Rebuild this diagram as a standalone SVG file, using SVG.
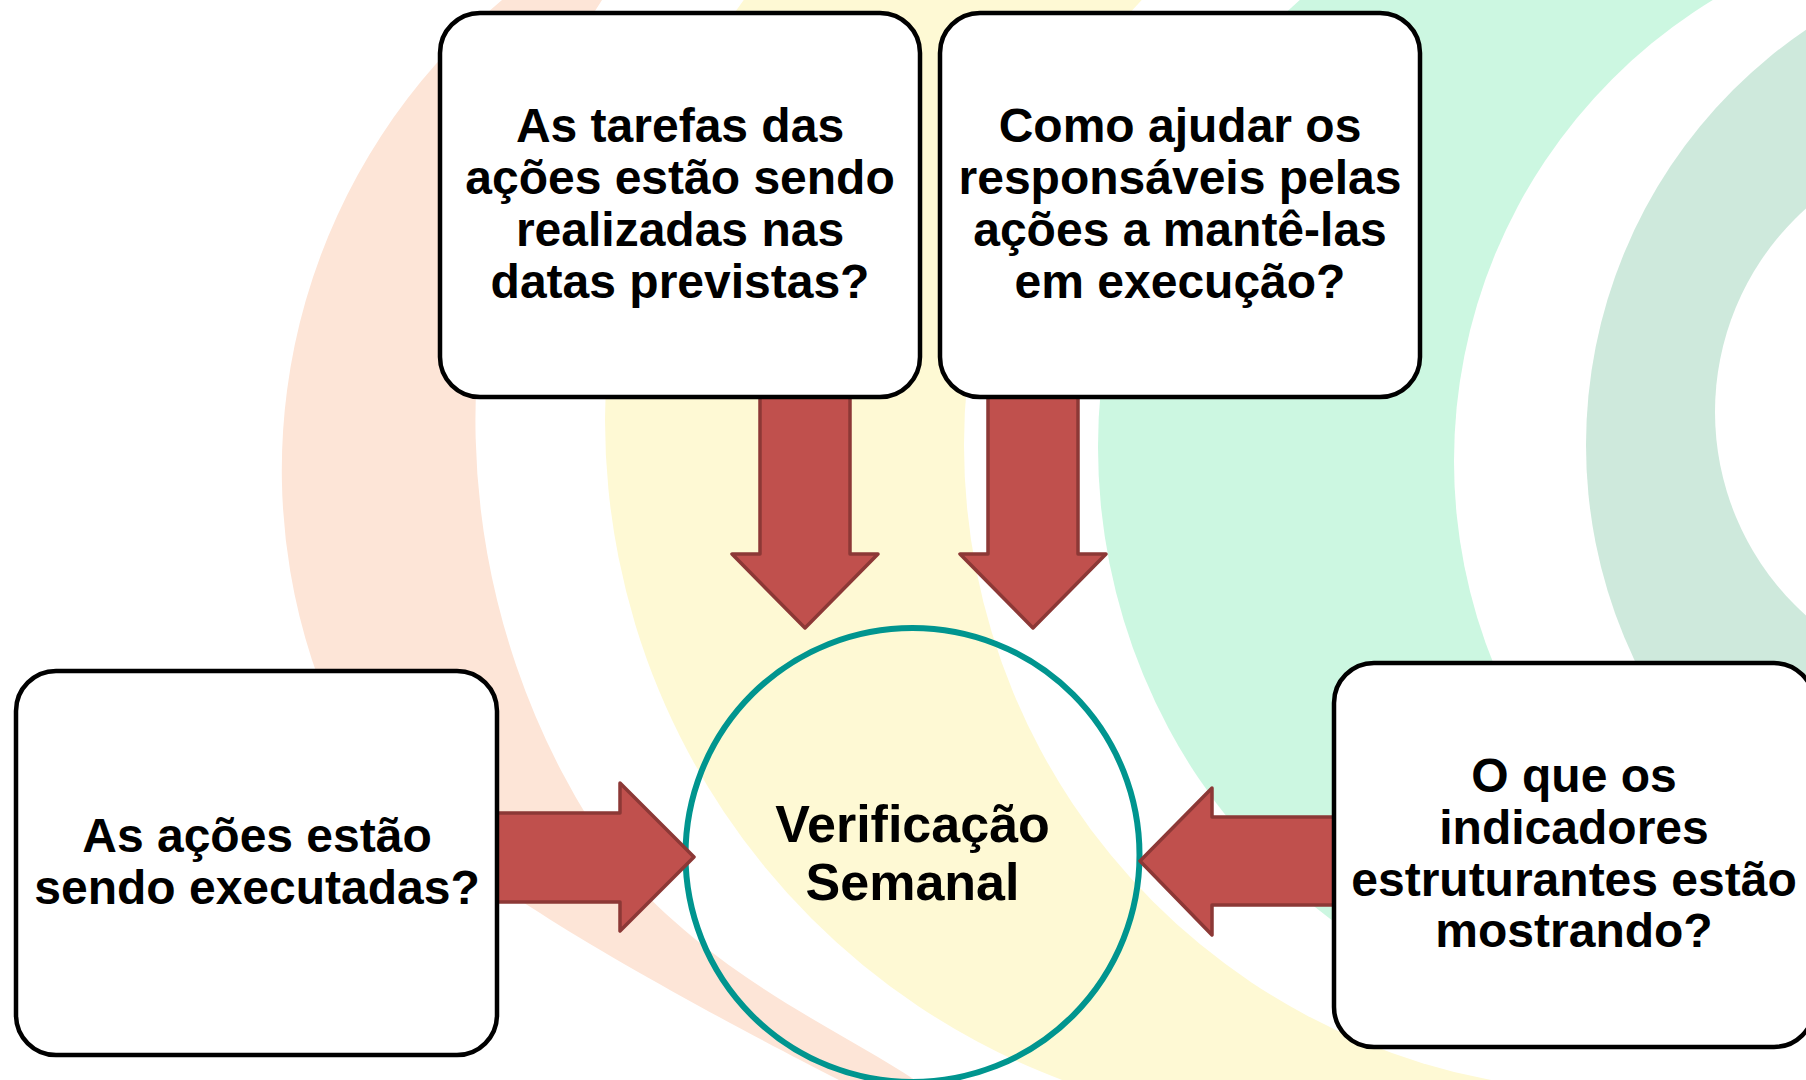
<svg xmlns="http://www.w3.org/2000/svg" width="1806" height="1080" viewBox="0 0 1806 1080">
<defs>
<style>
.box{fill:#FFFFFF;stroke:#000000;stroke-width:4.5}
.arrow{fill:#C0504D;stroke:#8C3836;stroke-width:3.5;stroke-linejoin:round}
.t{font-family:"Liberation Sans",Arial,sans-serif;font-weight:bold;font-size:48px;fill:#000000;text-anchor:middle}
.tc{font-family:"Liberation Sans",Arial,sans-serif;font-weight:bold;font-size:52px;fill:#000000;text-anchor:middle}
</style>
</defs>
<rect x="0" y="0" width="1806" height="1080" fill="#FFFFFF"/>
<g id="background">
<path fill="#FDE5D7" d="M502,0 A612,612 0 0 0 312,660 C343,755 420,840 540,913 C620,965 760,1040 839,1080 L915,1080 C840,1030 720,980 623,870 A760,760 0 0 1 602,0 Z"/>
<circle cx="1310" cy="420" r="705" fill="#FEF9D4"/>
<circle cx="1610" cy="445" r="646" fill="#FFFFFF"/>
<circle cx="1694" cy="447" r="596" fill="#CCF7E1"/>
<circle cx="1994" cy="461" r="540" fill="#FFFFFF"/>
<circle cx="2088" cy="445" r="502" fill="#CEE9DC"/>
<circle cx="1988" cy="412" r="273" fill="#FFFFFF"/>
</g>
<g id="center">
<circle cx="912.5" cy="855" r="227" fill="none" stroke="#00958F" stroke-width="6"/>
<text class="tc" x="912.5" y="842">Verificação</text>
<text class="tc" x="912.5" y="900">Semanal</text>
</g>
<g id="connectors">
<polygon class="arrow" points="760,392 850,392 850,554 878,554 805,628 732,554 760,554"/>
<polygon class="arrow" points="988,392 1078,392 1078,554 1106,554 1033,628 960,554 988,554"/>
<polygon class="arrow" points="492,813 620,813 620,783 694,857 620,931 620,902 492,902"/>
<polygon class="arrow" points="1340,817 1212,817 1212,788 1140,861 1212,935 1212,905 1340,905"/>
</g>
<g id="box-tarefas">
<rect class="box" x="440" y="13" width="480" height="384" rx="40"/>
<text class="t" x="680" y="142">As tarefas das</text>
<text class="t" x="680" y="194">ações estão sendo</text>
<text class="t" x="680" y="246">realizadas nas</text>
<text class="t" x="680" y="298">datas previstas?</text>
</g>
<g id="box-ajudar">
<rect class="box" x="940" y="13" width="480" height="384" rx="40"/>
<text class="t" x="1180" y="142">Como ajudar os</text>
<text class="t" x="1180" y="194">responsáveis pelas</text>
<text class="t" x="1180" y="246">ações a mantê-las</text>
<text class="t" x="1180" y="298">em execução?</text>
</g>
<g id="box-acoes">
<rect class="box" x="16" y="671" width="481" height="384" rx="40"/>
<text class="t" x="257" y="852">As ações estão</text>
<text class="t" x="257" y="904">sendo executadas?</text>
</g>
<g id="box-indicadores">
<rect class="box" x="1334" y="663" width="480" height="384" rx="40"/>
<text class="t" x="1574" y="792">O que os</text>
<text class="t" x="1574" y="844">indicadores</text>
<text class="t" x="1574" y="896">estruturantes estão</text>
<text class="t" x="1574" y="947">mostrando?</text>
</g>
</svg>
